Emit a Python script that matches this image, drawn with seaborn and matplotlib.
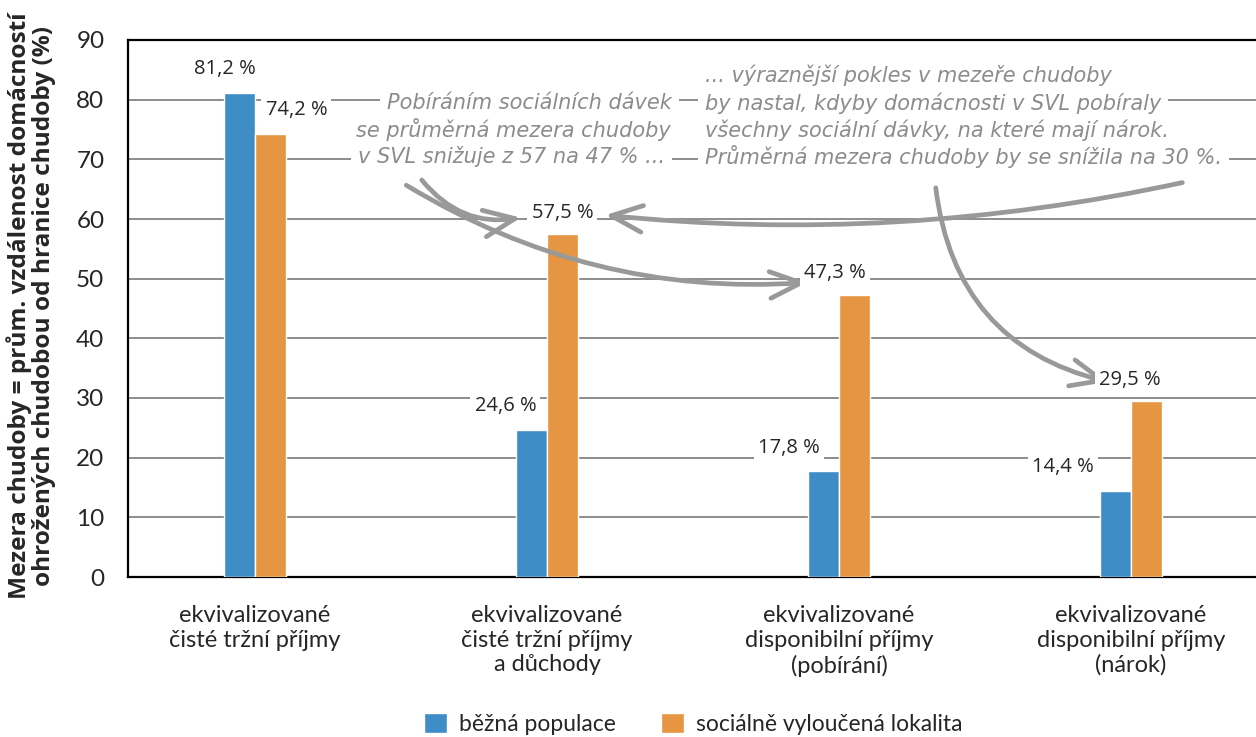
import matplotlib
matplotlib.use("Agg")
import matplotlib.pyplot as plt
import seaborn as sns
import pandas as pd
from matplotlib.patches import FancyArrowPatch

categories = ["ekvivalizované\nčisté tržní příjmy",
              "ekvivalizované\nčisté tržní příjmy\na důchody",
              "ekvivalizované\ndisponibilní příjmy\n(pobírání)",
              "ekvivalizované\ndisponibilní příjmy\n(nárok)"]
series_names = ["běžná populace", "sociálně vyloučená lokalita"]
bezna = [81.2, 24.6, 17.8, 14.4]
svl = [74.2, 57.5, 47.3, 29.5]
label_bezna = ["81,2 %", "24,6 %", "17,8 %", "14,4 %"]
label_svl = ["74,2 %", "57,5 %", "47,3 %", "29,5 %"]
yticks = [0, 10, 20, 30, 40, 50, 60, 70, 80, 90]
ylabel = "Mezera chudoby = prům. vzdálenost domácností\nohrožených chudobou od hranice chudoby (%)"
note1_lines = ["Pobíráním sociálních dávek",
               "se průměrná mezera chudoby",
               "v SVL snižuje z 57 na 47 % ..."]
note2_lines = ["... výraznější pokles v mezeře chudoby",
               "by nastal, kdyby domácnosti v SVL pobíraly",
               "všechny sociální dávky, na které mají nárok.",
               "Průměrná mezera chudoby by se snížila na 30 %."]

df = pd.DataFrame({
    "cat": categories * 2,
    "series": [series_names[0]] * 4 + [series_names[1]] * 4,
    "val": bezna + svl,
})

sns.set_theme(style="white")
plt.rcParams["font.family"] = ["Lato", "DejaVu Sans"]

BLUE = "#3F8DC6"
ORANGE = "#E69542"
GRAY = "#999999"
NOTE = "#8c8c8c"

fig = plt.figure(figsize=(12.56, 7.37), dpi=100)
ax = fig.add_axes([128 / 1256, 1 - 577 / 737, 1 - 128 / 1256, (577 - 40) / 737])

sns.barplot(data=df, x="cat", y="val", hue="series", palette=[BLUE, ORANGE],
            width=0.21, ax=ax, legend=True, saturation=1, zorder=3)

ax.set_ylim(0, 90)
ax.set_xlim(-0.435, 3.428)
ax.set_yticks(yticks)
ax.yaxis.grid(True, color="#7a7a7a", linewidth=1.2, zorder=0)
ax.set_axisbelow(True)
ax.spines["right"].set_visible(False)
for s in ["left", "bottom", "top"]:
    ax.spines[s].set_color("black")
    ax.spines[s].set_linewidth(1.6)
ax.tick_params(axis="y", labelsize=17.5, pad=11, left=False)
ax.tick_params(axis="x", labelsize=17, pad=14, bottom=False)
for t in ax.get_xticklabels():
    t.set_linespacing(1.22)
ax.set_xlabel("")
ax.set_ylabel("")
fig.text(31 / 1256, 1 - 306 / 737, ylabel, rotation=90, ha="center", va="center",
         fontsize=17.6, fontweight="bold", family=["Open Sans", "DejaVu Sans"],
         linespacing=0.97)

# value labels
bw = 0.105
off_b = [(-0.05, 4.0), (-0.09, 4.0), (-0.12, 3.8), (-0.18, 4.0)]
off_s = [(0.089, 4.1), (0.0, 3.5), (-0.065, 3.7), (-0.055, 3.5)]
for i in range(4):
    xb = i - bw / 2
    xs = i + bw / 2
    ax.text(xb + off_b[i][0], bezna[i] + off_b[i][1], label_bezna[i], ha="center", va="center",
            fontsize=14.5, family=["Open Sans", "DejaVu Sans"], zorder=8,
            bbox=dict(facecolor="white", edgecolor="none", pad=3))
    ax.text(xs + off_s[i][0], svl[i] + off_s[i][1], label_svl[i], ha="center", va="center",
            fontsize=14.5, family=["Open Sans", "DejaVu Sans"], zorder=8,
            bbox=dict(facecolor="white", edgecolor="none", pad=3))

# notes: white boxes behind each line, then the visible text on top
def note_line(x, y, s, ha):
    ax.text(x, y, s, ha=ha, va="center", fontsize=15, color="white",
            fontstyle="italic", family=["DejaVu Sans"], zorder=5,
            bbox=dict(facecolor="white", edgecolor="none", pad=5))
    ax.text(x, y, s, ha=ha, va="center", fontsize=15, color=NOTE,
            fontstyle="italic", family=["DejaVu Sans"], zorder=6)

note1_y = [79.4, 75.0, 70.4]
note1_x = [1.428, 1.425, 1.404]
for line, xx, yy in zip(note1_lines, note1_x, note1_y):
    note_line(xx, yy, line, "right")
note2_y = [84.1, 79.4, 74.9, 70.4]
for line, yy in zip(note2_lines, note2_y):
    note_line(1.541, yy, line, "left")

# arrows
arrows = [
    ((0.565, 66.9), (0.92, 60.3), 0.3),
    ((0.51, 65.9), (1.90, 49.4), 0.16),
    ((3.185, 66.2), (1.19, 60.7), -0.08),
    ((2.33, 65.7), (2.93, 32.6), 0.35),
]
for (p0, p1, rad) in arrows:
    arr = FancyArrowPatch(p0, p1, connectionstyle=f"arc3,rad={rad}",
                          arrowstyle="->,head_length=1.4,head_width=0.6",
                          color=GRAY, lw=3.4, zorder=7, mutation_scale=16)
    ax.add_patch(arr)

# legend
handles, labels = ax.get_legend_handles_labels()
ax.get_legend().remove()
fig.legend(handles, labels, loc="center", bbox_to_anchor=(0.552, 1 - 724 / 737), ncol=2,
           frameon=False, fontsize=16.5, handlelength=1.0, handleheight=1.0,
           columnspacing=2.0, handletextpad=0.5)

fig.savefig("out.png", dpi=100)
